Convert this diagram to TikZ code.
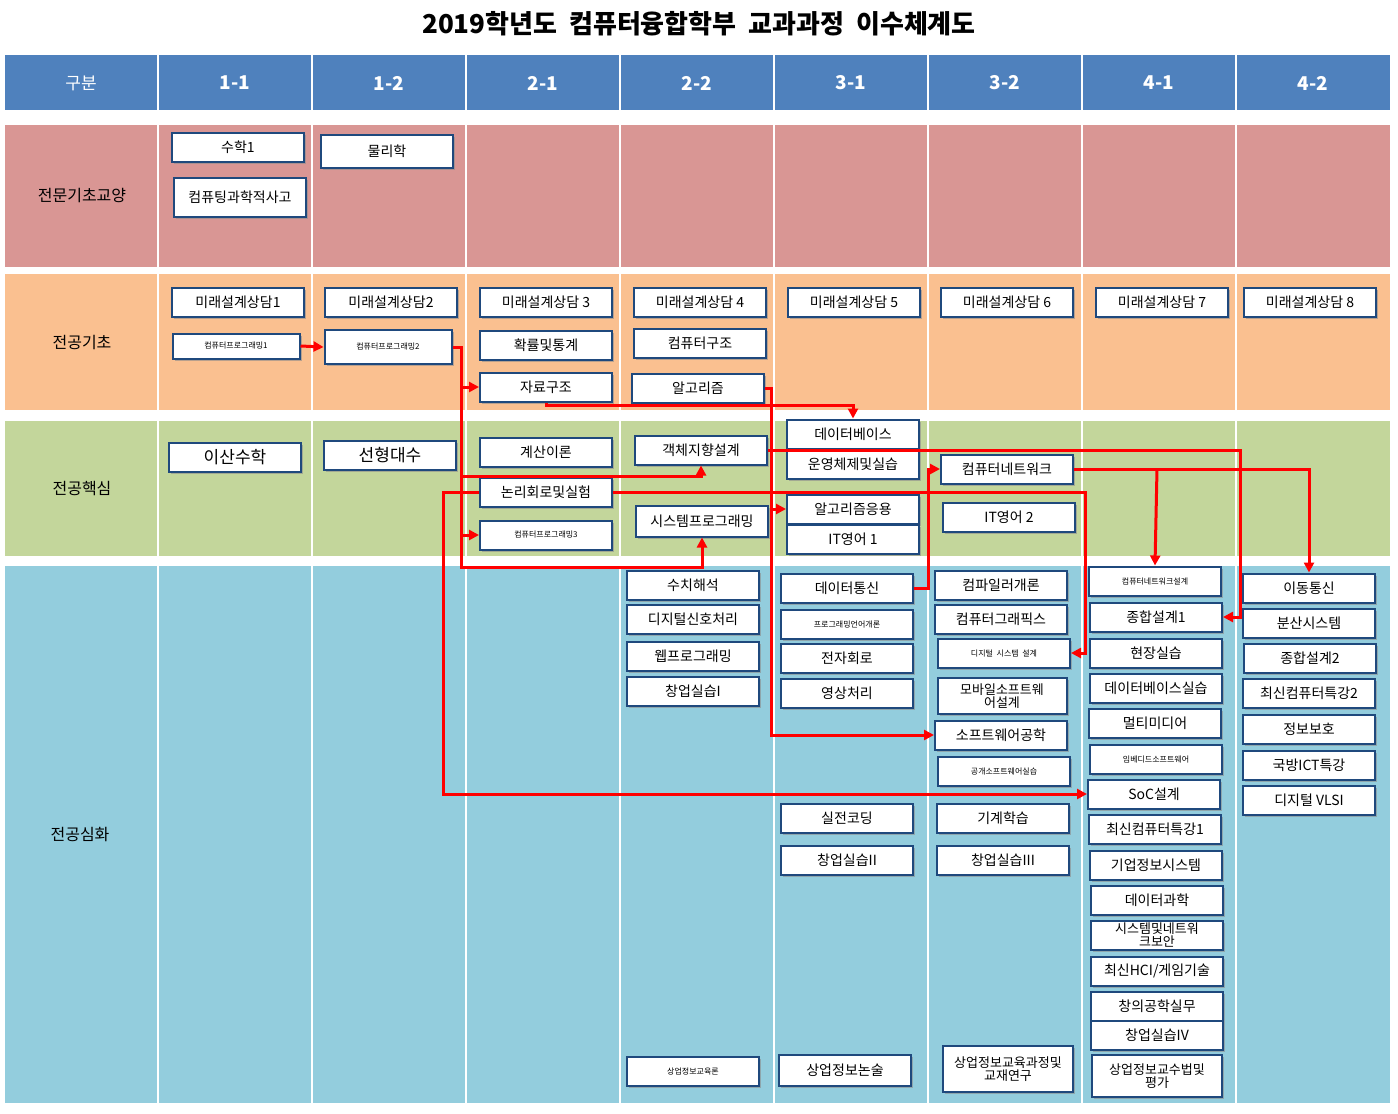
\documentclass[tikz,border=0pt]{standalone}
\usepackage{fontspec}
\setmainfont{Noto Sans CJK KR}
\usetikzlibrary{arrows.meta,shadows}
\definecolor{hdr}{HTML}{4F81BD}
\definecolor{bA}{HTML}{D99694}
\definecolor{bB}{HTML}{FAC090}
\definecolor{bC}{HTML}{C3D69B}
\definecolor{bD}{HTML}{93CDDD}
\definecolor{bord}{HTML}{1F497D}
\tikzset{
 bx/.style={draw=bord,line width=2pt,fill=white,minimum width=132pt,minimum height=29pt,inner sep=1pt,align=center,
   font=\fontsize{14}{15}\selectfont,drop shadow={shadow xshift=2pt,shadow yshift=-2pt,fill=black!45,opacity=.6}},
 sm/.style={font=\fontsize{8}{9}\selectfont},
 two/.style={font=\fontsize{13}{13}\selectfont},
 rl/.style={font=\fontsize{16}{18}\selectfont},
 hd/.style={text=white,font=\bfseries\fontsize{19}{21}\selectfont},
 con/.style={draw=red,line width=3pt},
 arr/.style={con,-{Triangle[length=10pt,width=10pt]}}
}
\begin{document}
\begin{tikzpicture}[x=1pt,y=-1pt]
\useasboundingbox (0,0) rectangle (1398,1114);
\fill[white] (0,0) rectangle (1398,1114);
\fill[hdr] (5,55) rectangle (1390,110);
\fill[bA] (5,125) rectangle (1390,267);
\fill[bB] (5,274) rectangle (1390,410);
\fill[bC] (5,421) rectangle (1390,556);
\fill[bD] (5,566) rectangle (1390,1103);
\foreach \x in {158,312,466,620,774,928,1082,1236}{\draw[white,line width=2pt] (\x,50) -- (\x,1106);}
\node[font=\bfseries\fontsize{26}{30}\selectfont] (title) at (699,24) {2019학년도\ \ 컴퓨터융합학부\ \ 교과과정\ \ 이수체계도};
\node[hd,font=\fontsize{17}{19}\selectfont] (h0) at (81,83) {구분};
\node[hd] (h1) at (235,83) {1-1};
\node[hd] (h2) at (389,83) {1-2};
\node[hd] (h3) at (543,83) {2-1};
\node[hd] (h4) at (697,83) {2-2};
\node[hd] (h5) at (851,83) {3-1};
\node[hd] (h6) at (1005,83) {3-2};
\node[hd] (h7) at (1159,83) {4-1};
\node[hd] (h8) at (1313,83) {4-2};
\node[rl] (r1) at (82,196) {전문기초교양};
\node[rl] (r2) at (82,343) {전공기초};
\node[rl] (r3) at (82,489) {전공핵심};
\node[rl] (r4) at (80,834) {전공심화};
% row 1
\node[bx] (m1) at (238,147) {수학1};
\node[bx,minimum height=39pt] (ct) at (240,197) {컴퓨팅과학적사고};
\node[bx,minimum height=33pt] (ph) at (387,151) {물리학};
% row 2
\node[bx] (f1) at (238,302) {미래설계상담1};
\node[bx] (f2) at (391,302) {미래설계상담2};
\node[bx] (f3) at (546,302) {미래설계상담 3};
\node[bx] (f4) at (700,302) {미래설계상담 4};
\node[bx] (f5) at (854,302) {미래설계상담 5};
\node[bx] (f6) at (1007,302) {미래설계상담 6};
\node[bx] (f7) at (1162,302) {미래설계상담 7};
\node[bx] (f8) at (1310,302) {미래설계상담 8};
\node[bx,sm,minimum width=127pt,minimum height=25pt] (p1) at (236,346) {컴퓨터프로그래밍1};
\node[bx,sm,minimum width=127pt,minimum height=34pt] (p2) at (388,347) {컴퓨터프로그래밍2};
\node[bx] (ps) at (546,345) {확률및통계};
\node[bx] (ca) at (700,343) {컴퓨터구조};
\node[bx] (ds) at (546,387) {자료구조};
\node[bx] (al) at (698,388) {알고리즘};
% row 3
\node[bx,font=\fontsize{17}{18}\selectfont] (dm) at (235,457) {이산수학};
\node[bx,font=\fontsize{17}{18}\selectfont] (la) at (390,455) {선형대수};
\node[bx] (tc) at (546,452) {계산이론};
\node[bx] (oo) at (701,450) {객체지향설계};
\node[bx] (db) at (853,434) {데이터베이스};
\node[bx] (os) at (853,464) {운영체제및실습};
\node[bx] (cn) at (1007,469) {컴퓨터네트워크};
\node[bx] (lc) at (546,492) {논리회로및실험};
\node[bx,minimum height=31pt] (sp) at (702,521) {시스템프로그래밍};
\node[bx] (aa) at (853,509) {알고리즘응용};
\node[bx] (e1) at (853,539) {IT영어 1};
\node[bx] (e2) at (1009,517) {IT영어 2};
\node[bx,sm] (p3) at (546,535) {컴퓨터프로그래밍3};
% row 4, 2-2
\node[bx] (na) at (693,585) {수치해석};
\node[bx] (dsp) at (693,619) {디지털신호처리};
\node[bx] (wp) at (693,656) {웹프로그래밍};
\node[bx] (s1) at (693,691) {창업실습I};
\node[bx,sm] (ie) at (693,1071) {상업정보교육론};
% 3-1
\node[bx] (dc) at (847,588) {데이터통신};
\node[bx,sm] (pl) at (847,624) {프로그래밍언어개론};
\node[bx] (ec) at (847,658) {전자회로};
\node[bx] (ip) at (847,693) {영상처리};
\node[bx] (pc) at (847,818) {실전코딩};
\node[bx] (s2) at (847,860) {창업실습II};
\node[bx,minimum height=31pt] (iw) at (845,1070) {상업정보논술};
% 3-2
\node[bx] (cp) at (1001,585) {컴파일러개론};
\node[bx] (cg) at (1001,619) {컴퓨터그래픽스};
\node[bx,sm] (dsd) at (1004,653) {디지털\ \ 시스템\ \ 설계};
\node[bx,two,minimum width=129pt,minimum height=36pt] (ms) at (1002,696) {모바일소프트웨\\어설계};
\node[bx] (se) at (1001,735) {소프트웨어공학};
\node[bx,sm] (os2) at (1004,771) {공개소프트웨어실습};
\node[bx] (ml) at (1003,818) {기계학습};
\node[bx] (s3) at (1003,860) {창업실습III};
\node[bx,two,minimum width=130pt,minimum height=46pt] (ic) at (1008,1069) {상업정보교육과정및\\교재연구};
% 4-1
\node[bx,sm] (cnd) at (1155,581) {컴퓨터네트워크설계};
\node[bx] (d1) at (1156,617) {종합설계1};
\node[bx] (fp) at (1156,653) {현장실습};
\node[bx] (dbp) at (1156,688) {데이터베이스실습};
\node[bx] (mm) at (1155,723) {멀티미디어};
\node[bx,sm] (es) at (1156,759) {임베디드소프트웨어};
\node[bx] (soc) at (1154,794) {SoC설계};
\node[bx] (t1) at (1155,829) {최신컴퓨터특강1};
\node[bx] (eis) at (1156,865) {기업정보시스템};
\node[bx] (dsc) at (1157,900) {데이터과학};
\node[bx,two] (sns) at (1157,935) {시스템및네트워\\크보안};
\node[bx] (hci) at (1157,971) {최신HCI/게임기술};
\node[bx] (ce) at (1157,1006) {창의공학실무};
\node[bx] (s4) at (1157,1035) {창업실습IV};
\node[bx,two,minimum width=130pt,minimum height=42pt] (it) at (1157,1076) {상업정보교수법및\\평가};
% 4-2
\node[bx] (mc) at (1309,588) {이동통신};
\node[bx] (dis) at (1309,623) {분산시스템};
\node[bx] (d2) at (1310,658) {종합설계2};
\node[bx] (t2) at (1309,693) {최신컴퓨터특강2};
\node[bx] (sec) at (1309,729) {정보보호};
\node[bx] (mil) at (1309,765) {국방ICT특강};
\node[bx] (vlsi) at (1309,800) {디지털 VLSI};
% connectors
\draw[arr] (p1.east) -- (p2.west);
\draw[arr] (p2.east) -- (461,347) -- (461,567) -| (sp.south);
\draw[arr] (461,387) -- (ds.west);
\draw[arr] (461,535) -- (p3.west);
\draw[arr] (461,476) -| (oo.south);
\draw[arr] (ds.south) -- (546,405) -| (db.north);
\draw[arr] (al.east) -- (771,388) -- (771,735) -- (se.west);
\draw[arr] (771,509) -- (aa.west);
\draw[arr] (oo.east) -- (1240,450) |- (d1.east);
\draw[arr] (lc.west) -- (443,492) |- (soc.west);
\draw[arr] (lc.east) -- (1085,492) |- (dsd.east);
\draw[arr] (dc.east) -- (928,588) |- (cn.west);
\draw[arr] (cn.east) -| (mc.north);
\draw[arr] (1157,469) -- (cnd.north);
\end{tikzpicture}
\end{document}
